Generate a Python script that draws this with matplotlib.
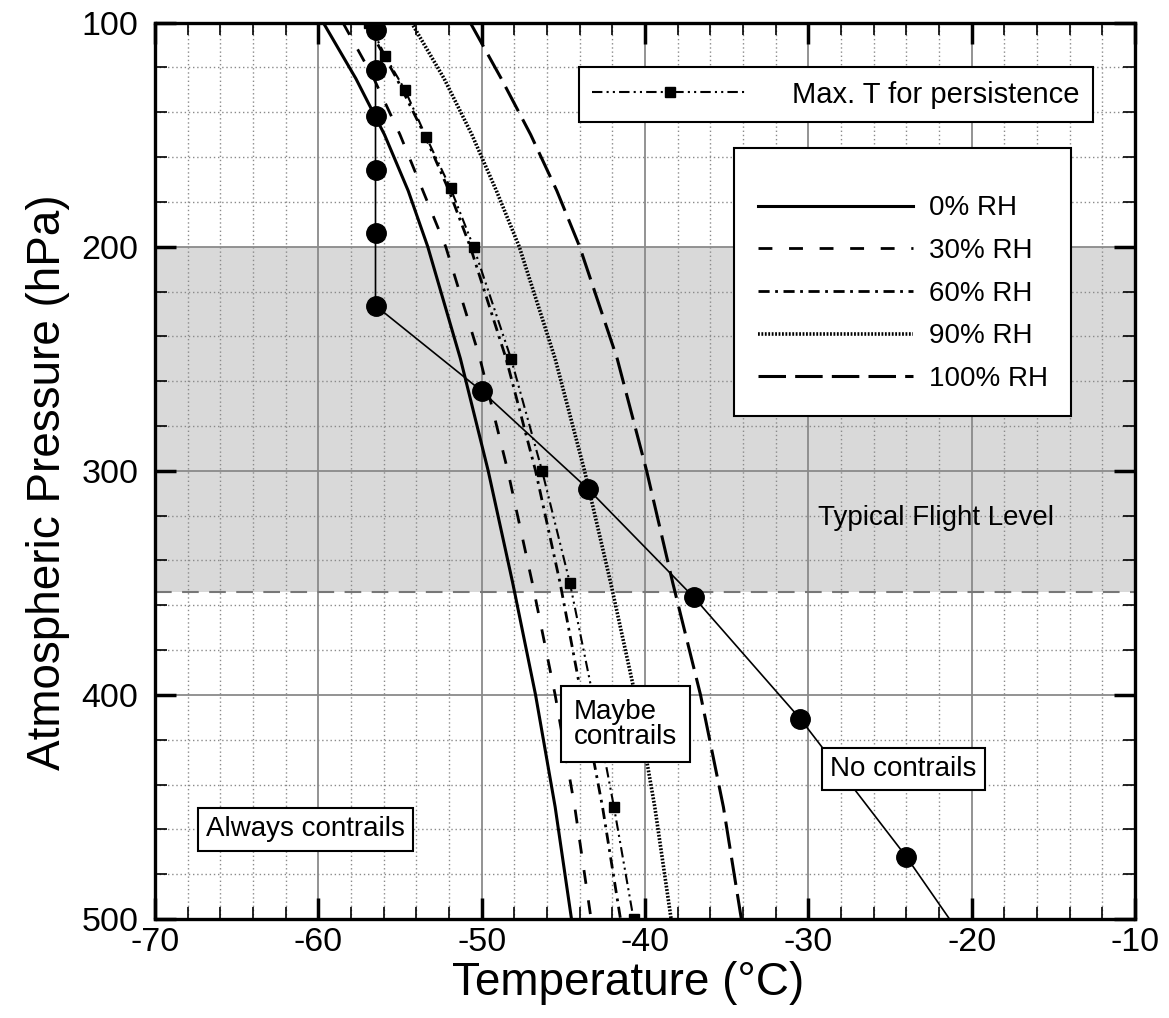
import matplotlib
matplotlib.use("Agg")
import matplotlib.pyplot as plt
from matplotlib.ticker import MultipleLocator

plt.rcParams['font.family'] = ['Liberation Sans', 'DejaVu Sans']
plt.rcParams['axes.unicode_minus'] = False

# contrail threshold temperatures (deg C)
pressure_levels = [100, 125, 150, 175, 200, 250, 300, 350, 400, 450, 500]
t_rh0 = [-59.7, -57.7, -55.95, -54.5, -53.3, -51.3, -49.6, -48.1, -46.7, -45.5, -44.5]
t_rh30 = [-58.5, -56.6, -55.0, -53.6, -52.2, -50.1, -48.4, -46.9, -45.5, -44.3, -43.3]
t_rh60 = [-57.1, -55.2, -53.5, -52.0, -50.7, -48.5, -46.7, -45.2, -43.9, -42.6, -41.5]
t_rh90 = [-54.3, -52.3, -50.6, -49.1, -47.7, -45.5, -43.7, -42.1, -40.6, -39.4, -38.4]
t_rh100 = [-50.7, -48.8, -47.0, -45.4, -44.0, -41.7, -39.9, -38.3, -36.6, -35.2, -34.1]

# max temperature for persistent contrails
p_persist = [100, 115, 130, 151, 174, 200, 250, 300, 350, 400, 450, 500]
t_persist = [-56.9, -55.9, -54.7, -53.4, -51.9, -50.5, -48.2, -46.3, -44.6, -43.2, -41.9, -40.7]

# standard atmosphere profile, one point per km
p_isa = [88.5, 103.5, 121.1, 141.7, 165.8, 194.0, 226.3, 264.4, 308.0, 356.5, 410.6, 472.2, 540.5]
t_isa = [-56.5, -56.5, -56.5, -56.5, -56.5, -56.5, -56.5, -50.0, -43.5, -37.0, -30.5, -24.0, -17.5]

flight_band = (200, 354)
rh_labels = ['0% RH', '30% RH', '60% RH', '90% RH', '100% RH']

fig = plt.figure(figsize=(11.69, 10.18), dpi=100)
ax = fig.add_axes([0.1326, 0.0972, 0.8383, 0.8806])

ax.axhspan(flight_band[0], flight_band[1], color='#d9d9d9', zorder=0, lw=0)
ax.axhline(flight_band[1], color='#777777', lw=1.5, ls=(0, (8, 5)), zorder=0.6)

h0, = ax.plot(t_rh0, pressure_levels, color='black', lw=2.2, ls='-')
h30, = ax.plot(t_rh30, pressure_levels, color='black', lw=2.0, ls=(0, (5, 6)))
h60, = ax.plot(t_rh60, pressure_levels, color='black', lw=2.0, ls=(0, (4, 2, 1, 2)))
h90, = ax.plot(t_rh90, pressure_levels, color='black', lw=2.6, ls=(0, (0.5, 0.45)))
h100, = ax.plot(t_rh100, pressure_levels, color='black', lw=2.2, ls=(0, (9, 3)))
hp, = ax.plot(t_persist, p_persist, color='black', lw=1.5, ls=(0, (5, 2, 1, 2, 1, 2)),
              marker='s', markersize=6.5)

ax.plot(t_isa, p_isa, color='black', lw=1.2, marker='o', markersize=14, zorder=3)

ax.set_xlim(-70, -10)
ax.set_ylim(500, 100)
ax.xaxis.set_major_locator(MultipleLocator(10))
ax.xaxis.set_minor_locator(MultipleLocator(2))
ax.yaxis.set_major_locator(MultipleLocator(100))
ax.yaxis.set_minor_locator(MultipleLocator(20))

ax.set_axisbelow(True)
ax.grid(which='major', color='#8a8a8a', lw=1.3, ls='-')
ax.grid(which='minor', color='#8a8a8a', lw=1.0, ls=(0, (1, 2)))

ax.tick_params(which='both', direction='in', top=True, right=True, labelsize=24.5)
ax.tick_params(which='major', length=15, width=2.5)
ax.tick_params(which='minor', length=8.5, width=1.2)
ax.tick_params(axis='x', pad=6)
ax.tick_params(axis='y', pad=12)
for s in ax.spines.values():
    s.set_linewidth(2.4)

ax.set_xlabel('Temperature (°C)', fontsize=33, labelpad=2)
ax.set_ylabel('Atmospheric Pressure (hPa)', fontsize=33, labelpad=8)
ax.xaxis.label.set_x(0.483)
ax.yaxis.label.set_y(0.487)

box = dict(boxstyle='square,pad=0.45', fc='white', ec='black', lw=1.5)
ax.text(-29.4, 321, 'Typical Flight Level', fontsize=20, ha='left', va='center', zorder=4)
ax.text(-41.2, 413, 'Maybe\ncontrails', fontsize=20, ha='center', va='center',
        linespacing=0.95, multialignment='left', bbox=box, zorder=4)
ax.text(-24.2, 433, 'No contrails', fontsize=20, ha='center', va='center',
        bbox=dict(boxstyle='square,pad=0.3', fc='white', ec='black', lw=1.5), zorder=4)
ax.text(-60.8, 460, 'Always contrails', fontsize=20, ha='center', va='center',
        bbox=dict(boxstyle='square,pad=0.3', fc='white', ec='black', lw=1.5), zorder=4)

leg1 = ax.legend([hp], ['Max. T for persistence'], loc='upper right',
                 bbox_to_anchor=(0.957, 0.950), borderaxespad=0, fontsize=21,
                 handlelength=5.3, handletextpad=1.55, numpoints=1,
                 fancybox=False, edgecolor='black', framealpha=1, borderpad=0.45)
leg1.get_frame().set_linewidth(1.5)
ax.add_artist(leg1)

leg2 = ax.legend([h0, h30, h60, h90, h100], rh_labels, loc='upper right',
                 bbox_to_anchor=(0.935, 0.860), borderaxespad=0, fontsize=20,
                 title=' ', title_fontsize=6, handlelength=5.6, handletextpad=0.55,
                 labelspacing=0.6, fancybox=False, edgecolor='black', framealpha=1,
                 borderpad=0.85)
leg2.get_frame().set_linewidth(1.5)

fig.savefig('out.png', dpi=100)
